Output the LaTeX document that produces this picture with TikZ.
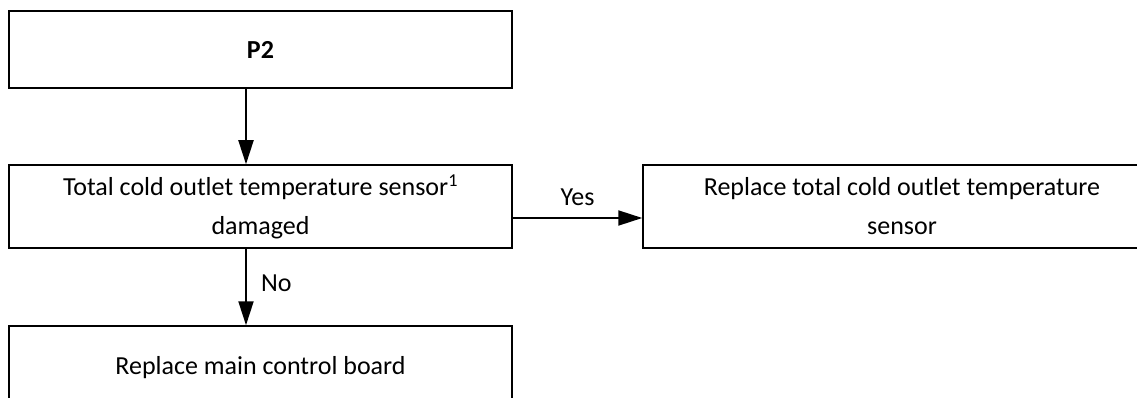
\documentclass[tikz,border=0pt]{standalone}
\usepackage{fontspec}
\setmainfont{Carlito}
\usetikzlibrary{arrows.meta}

\begin{document}
\begin{tikzpicture}[x=1pt,y=-1pt,
  box/.style={draw,rectangle,line width=1.5pt,inner sep=0pt,align=center,font=\fontsize{26}{39}\selectfont},
  arr/.style={line width=2pt,-{Triangle[length=24pt,width=15pt]}},
  lbl/.style={inner sep=0pt,font=\fontsize{26}{30}\selectfont}]
\useasboundingbox (0,0) rectangle (1137,398);
\node[box,minimum width=503,minimum height=77] (p2) at (260.5,49.5) {\textbf{P2}};
\node[box,minimum width=503,minimum height=83] (dmg) at (260.5,206.5) {Total cold outlet temperature sensor\textsuperscript{1}\\damaged};
\node[box,minimum width=518,minimum height=83] (repl) at (902,206.5) {Replace total cold outlet temperature\\sensor};
\node[box,minimum width=503,minimum height=83] (board) at (260.5,367.5) {Replace main control board};
\coordinate (col) at (246,0);
\coordinate (row) at (0,218);
\draw[arr] (p2.south -| col) -- (dmg.north -| col);
\draw[arr] (dmg.east |- row) -- node[lbl,above=11pt] {Yes} (repl.west |- row);
\draw[arr] (dmg.south -| col) -- node[lbl,right=14pt,pos=0.45] {No} (board.north -| col);
\end{tikzpicture}
\end{document}
